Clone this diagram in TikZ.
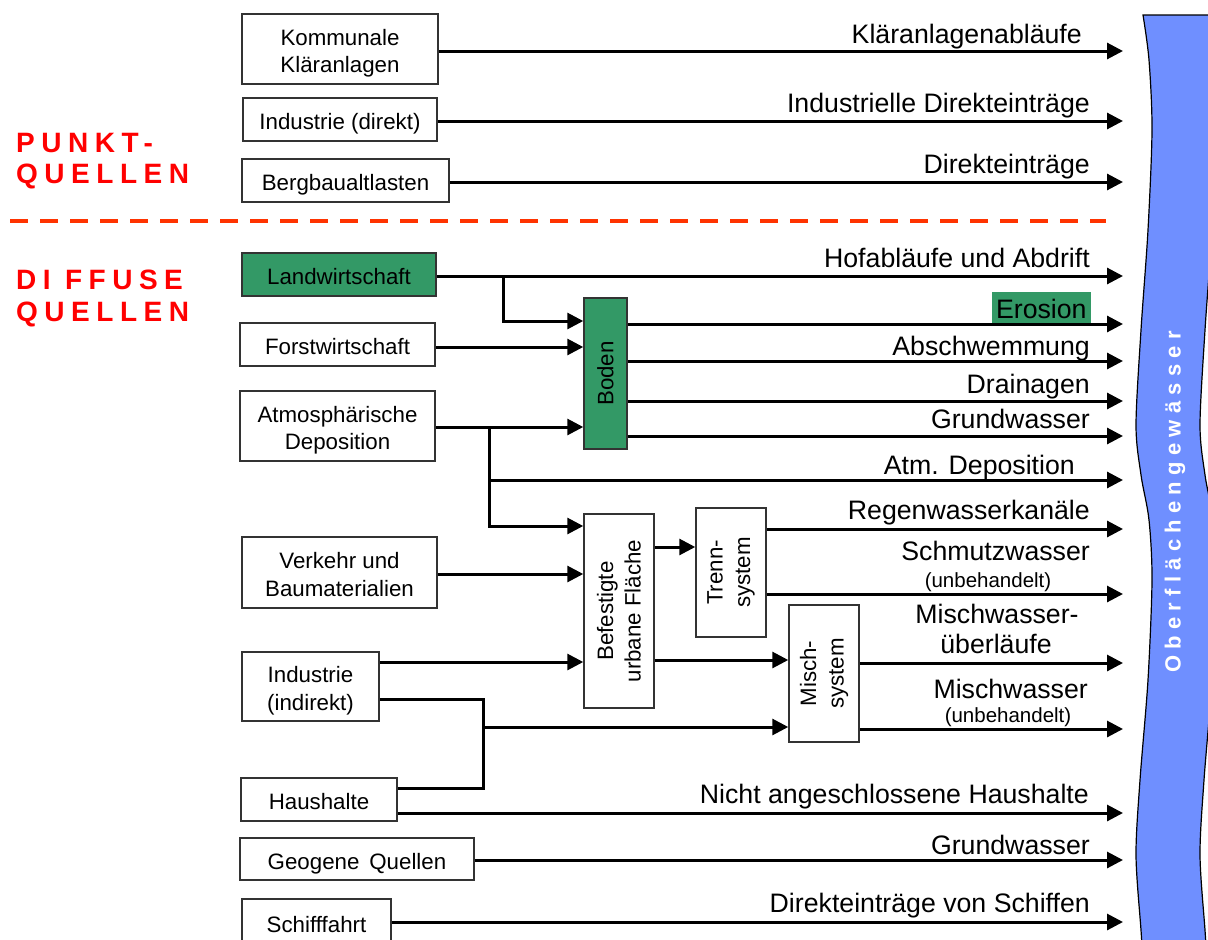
\documentclass[tikz,border=0pt]{standalone}
\usepackage{fontspec}
\setmainfont{Liberation Sans}
\newfontfamily\sperrfont[LetterSpace=23.3]{Liberation Sans}
\newfontfamily\flussfont[LetterSpace=28.5]{Liberation Sans}
\usetikzlibrary{arrows.meta}
\definecolor{gruen}{RGB}{51,153,102}
\definecolor{fluss}{RGB}{111,143,255}
\definecolor{rotlinie}{RGB}{255,51,0}
\newcommand{\oben}{\rule{0pt}{25pt}}
\newcommand{\unten}{\rule[-5pt]{0pt}{5pt}}

\begin{document}
\begin{tikzpicture}[x=1pt,y=-1pt]

\tikzset{kasten/.style = {draw=black!80,line width=1.5pt,fill=white,align=center,inner sep=0pt,font=\fontsize{22.3}{27.5}\selectfont}}
\tikzset{quelle/.style = {kasten,execute at begin node=\oben,execute at end node=\unten}}
\tikzset{zweizeilig/.style = {kasten,execute at end node=\unten}}
\tikzset{senkrecht/.style = {kasten,rotate=90}}
\tikzset{pfeil/.style = {-{Triangle[length=16pt,width=16pt]},line width=3pt}}
\tikzset{linie/.style = {line width=3pt}}
\tikzset{eintrag/.style = {anchor=base east,inner sep=0pt,font=\fontsize{26.7}{30}\selectfont}}
\tikzset{klein/.style = {anchor=base,inner sep=0pt,font=\fontsize{20.5}{24}\selectfont}}
\tikzset{gruppe/.style = {anchor=base west,inner sep=0pt,text=red,font=\sperrfont\bfseries\fontsize{28}{32}\selectfont}}

\useasboundingbox (0,0) rectangle (1208,940);
\clip (0,0) rectangle (1208,940);

% Oberflaechengewaesser
\fill[fluss,draw=black,line width=1.2pt]
  plot[smooth] coordinates {(1143,15) (1149,60) (1152,130) (1148,230) (1141,330) (1136,425) (1141,475) (1149,520) (1152,580) (1148,680) (1140,780) (1136,855) (1141,930) (1143,960)}
  -- plot[smooth] coordinates {(1207,960) (1205,930) (1200,855) (1204,780) (1212,680) (1216,580) (1213,520) (1205,475) (1200,425) (1205,330) (1212,230) (1216,130) (1213,60) (1210,15)}
  -- cycle;
\node[text=white,rotate=90,font=\flussfont\bfseries\fontsize{22}{26}\selectfont] (Fluss) at (1175,502) {Oberflächengewässer};

% Gruppen
\node[gruppe] (Punkt1) at (16,152) {PUNKT-};
\node[gruppe] (Punkt2) at (16,183) {QUELLEN};
\node[gruppe] (Diffus1) at (16,289) {DI FFUSE};
\node[gruppe] (Diffus2) at (16,321) {QUELLEN};
\draw[rotlinie,line width=4.3pt,dash pattern=on 17.5pt off 12.5pt] (10,221) -- (1106,221);

% vertices
\node[zweizeilig,minimum width=196pt,minimum height=70pt] (Kommunal) at (340,49) {\oben Kommunale\\Kläranlagen};
\node[quelle,minimum width=194pt,minimum height=43pt] (IndustrieDirekt) at (340,119.5) {Industrie (direkt)};
\node[quelle,minimum width=207pt,minimum height=43pt] (Bergbau) at (345.5,180.5) {Bergbaualtlasten};
\node[quelle,fill=gruen,minimum width=194pt,minimum height=43pt] (Landwirtschaft) at (339,274.5) {Landwirtschaft};
\node[quelle,minimum width=195pt,minimum height=43pt] (Forst) at (337.5,344.5) {Forstwirtschaft};
\node[zweizeilig,minimum width=195pt,minimum height=70pt] (Atmos) at (337.5,426) {\oben Atmosphärische\\Deposition};
\node[zweizeilig,minimum width=195pt,minimum height=71pt] (Verkehr) at (339.5,572.5) {\oben Verkehr und\\Baumaterialien};
\node[zweizeilig,minimum width=137pt,minimum height=69pt] (IndustrieIndirekt) at (310.5,686.5) {\oben Industrie\\(indirekt)};
\node[quelle,minimum width=156pt,minimum height=43pt] (Haushalte) at (319,799.5) {Haushalte};
\node[quelle,minimum width=234pt,minimum height=42pt] (Geogen) at (357,859) {Geogene\, Quellen};
\node[quelle,minimum width=149pt,minimum height=46pt] (Schiff) at (316.5,922) {Schifffahrt};
\node[senkrecht,fill=gruen,minimum width=151pt,minimum height=43pt] (Boden) at (605.5,373.5) {Boden};
\node[senkrecht,minimum width=194pt,minimum height=70pt] (Flaeche) at (619,611) {Befestigte\\urbane Fläche};
\node[senkrecht,minimum width=129pt,minimum height=70pt] (Trenn) at (731,572.5) {Trenn-\\system};
\node[senkrecht,minimum width=137pt,minimum height=70pt] (Misch) at (824,673.5) {Misch-\\system};

% Eintraege
\node[eintrag] (lKlaer) at (1082,43) {Kläranlagenabläufe};
\node[eintrag] (lIndDir) at (1090,112) {Industrielle Direkteinträge};
\node[eintrag] (lBergbau) at (1090,173) {Direkteinträge};
\node[eintrag] (lHof) at (1090,267) {Hofabläufe und Abdrift};
\node[eintrag,fill=gruen,inner xsep=4.2pt,inner ysep=4pt,text height=22pt,text depth=3pt] (lErosion) at (1091,318) {Erosion};
\node[eintrag] (lAbschw) at (1090,355) {Abschwemmung};
\node[eintrag] (lDrain) at (1090,393) {Drainagen};
\node[eintrag] (lGrundBoden) at (1090,428) {Grundwasser};
\node[eintrag] (lAtm) at (1075,474) {Atm. Deposition};
\node[eintrag] (lRegen) at (1090,519) {Regenwasserkanäle};
\node[eintrag] (lSchmutz) at (1090,560) {Schmutzwasser};
\node[klein] (lSchmutzU) at (988,587) {(unbehandelt)};
\node[eintrag,anchor=base] (lMischUeb1) at (997,623) {Mischwasser-};
\node[eintrag,anchor=base] (lMischUeb2) at (996,653) {überläufe};
\node[eintrag] (lMischUnb) at (1088,698) {Mischwasser};
\node[klein] (lMischUnbU) at (1008,722) {(unbehandelt)};
\node[eintrag] (lNicht) at (1089,803) {Nicht angeschlossene Haushalte};
\node[eintrag] (lGrundGeo) at (1090,854) {Grundwasser};
\node[eintrag] (lSchiff) at (1090,912) {Direkteinträge von Schiffen};

% Zielpunkte und Knoten
\coordinate (zKlaer) at (1123,51);
\coordinate (zIndDir) at (1123,121);
\coordinate (zBergbau) at (1123,182);
\coordinate (zHof) at (1123,276);
\coordinate (zErosion) at (1123,324);
\coordinate (zAbschw) at (1123,361);
\coordinate (zDrain) at (1123,401);
\coordinate (zGrundBoden) at (1123,436);
\coordinate (zAtm) at (1123,480);
\coordinate (zRegen) at (1123,529);
\coordinate (zSchmutz) at (1123,594);
\coordinate (zMischUeb) at (1123,663);
\coordinate (zMischUnb) at (1123,729);
\coordinate (zNicht) at (1123,813);
\coordinate (zGrundGeo) at (1123,860);
\coordinate (zSchiff) at (1123,922);
\coordinate (LwAbzw) at (503,276);
\coordinate (LwKnick) at (503,321);
\coordinate (hForst) at (0,347);
\coordinate (AtmAbzw) at (489,427);
\coordinate (hAtmFl) at (0,526);
\coordinate (hVerkehr) at (0,574);
\coordinate (hTrenn) at (0,547);
\coordinate (hMisch) at (0,660);
\coordinate (hInd) at (0,662);
\coordinate (IndAbzw) at (483,699);
\coordinate (HausAbzw) at (483,788);
\coordinate (SammelKnick) at (483,727);

%edges
\draw[pfeil] (Kommunal.east |- zKlaer) -- (zKlaer);
\draw[pfeil] (IndustrieDirekt.east |- zIndDir) -- (zIndDir);
\draw[pfeil] (Bergbau.east |- zBergbau) -- (zBergbau);
\draw[pfeil] (Landwirtschaft.east |- zHof) -- (zHof);
\draw[pfeil] (LwAbzw) -- (LwKnick) -- (LwKnick -| Boden.north);
\draw[pfeil] (Forst.east |- hForst) -- (Boden.north |- hForst);
\draw[pfeil] (Atmos.east |- AtmAbzw) -- (Boden.north |- AtmAbzw);
\draw[pfeil] (AtmAbzw) |- (zAtm);
\draw[pfeil] (AtmAbzw) |- (Flaeche.north |- hAtmFl);
\draw[pfeil] (Boden.south |- zErosion) -- (zErosion);
\draw[pfeil] (Boden.south |- zAbschw) -- (zAbschw);
\draw[pfeil] (Boden.south |- zDrain) -- (zDrain);
\draw[pfeil] (Boden.south |- zGrundBoden) -- (zGrundBoden);
\draw[pfeil] (Verkehr.east |- hVerkehr) -- (Flaeche.north |- hVerkehr);
\draw[pfeil] (IndustrieIndirekt.east |- hInd) -- (Flaeche.north |- hInd);
\draw[pfeil] (Flaeche.south |- hTrenn) -- (Trenn.north |- hTrenn);
\draw[pfeil] (Flaeche.south |- hMisch) -- (Misch.north |- hMisch);
\draw[pfeil] (Trenn.south |- zRegen) -- (zRegen);
\draw[pfeil] (Trenn.south |- zSchmutz) -- (zSchmutz);
\draw[pfeil] (Misch.south |- zMischUeb) -- (zMischUeb);
\draw[pfeil] (Misch.south |- zMischUnb) -- (zMischUnb);
\draw[linie] (IndustrieIndirekt.east |- IndAbzw) -- (IndAbzw) -- (HausAbzw) -- (Haushalte.east |- HausAbzw);
\draw[pfeil] (SammelKnick) -- (Misch.north |- SammelKnick);
\draw[pfeil] (Haushalte.east |- zNicht) -- (zNicht);
\draw[pfeil] (Geogen.east |- zGrundGeo) -- (zGrundGeo);
\draw[pfeil] (Schiff.east |- zSchiff) -- (zSchiff);
\end{tikzpicture}
\end{document}
